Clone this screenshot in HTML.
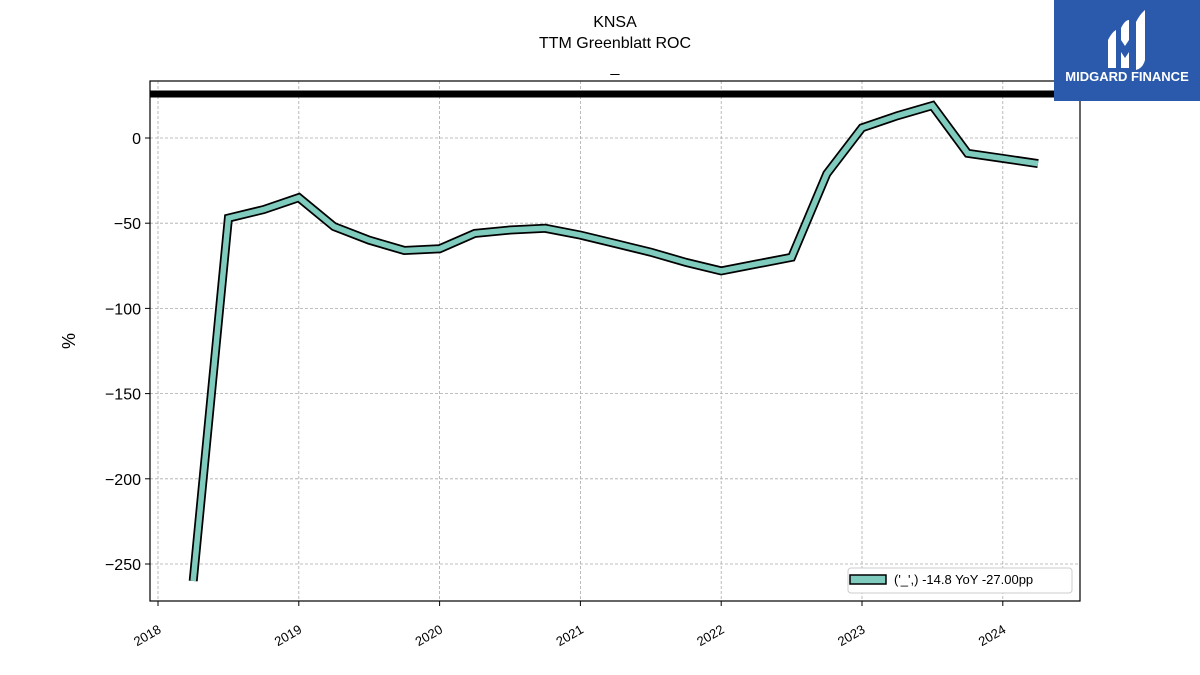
<!DOCTYPE html>
<html><head><meta charset="utf-8">
<style>
body{margin:0;background:#fff;width:1200px;height:675px;overflow:hidden;font-family:"Liberation Sans","DejaVu Sans",sans-serif;}
svg{display:block}
</style></head>
<body>
<svg id="chart" width="1200" height="675">
<text x="615" y="27" text-anchor="middle" font-size="16">KNSA</text>
<text x="615" y="48" text-anchor="middle" font-size="16">TTM Greenblatt ROC</text>
<text x="615" y="72" text-anchor="middle" font-size="16">_</text>
<g id="grid"></g>
<g id="axes"></g>
<g id="series"></g>
<rect x="150" y="81" width="930" height="520" fill="none" stroke="#000" stroke-width="1.2"/>
<text x="75" y="341" text-anchor="middle" font-size="18" transform="rotate(-90 75 341)">%</text>
<g>
<rect x="848" y="568" width="224" height="25" rx="3" fill="#fff" stroke="#ccc"/>
<rect x="850" y="575" width="36" height="9" fill="#7fcbbd" stroke="#000" stroke-width="1.5"/>
<text x="894" y="584" font-size="13">('_',) -14.8 YoY -27.00pp</text>
</g>
<g>
<rect x="1054" y="0" width="146" height="101" fill="#2b5aac"/>
<path d="M1108 40 q4-8 8-10 v38 h-8 z M1121 28 q4-8 8-8 v20 l-4 6 l-4-6 z M1121 52 l4 6 l4-6 v16 h-8 z M1136 22 q4-8 9-12 v50 q-2 8-9 10 z" fill="#fff"/>
<text x="1127" y="81" text-anchor="middle" font-size="13" font-weight="bold" fill="#fff">MIDGARD FINANCE</text>
</g>
</svg>
<script>
const xDates=[2018.25,2018.5,2018.75,2019,2019.25,2019.5,2019.75,2020,2020.25,2020.5,2020.75,2021,2021.25,2021.5,2021.75,2022,2022.25,2022.5,2022.75,2023,2023.25,2023.5,2023.75,2024,2024.25];
const rocValues=[-260,-47,-42,-35,-52,-60,-66,-65,-56,-54,-53,-57,-62,-67,-73,-78,-74,-70,-21,6,13,19,-9,-12,-15];
const refLine=[25.8];
const yTicks=[0,-50,-100,-150,-200,-250];
const yTickLabels=["0","\u221250","\u2212100","\u2212150","\u2212200","\u2212250"];
const xTicks=[2018,2019,2020,2021,2022,2023,2024];
const xTickLabels=["2018","2019","2020","2021","2022","2023","2024"];
const NS="http://www.w3.org/2000/svg";
const xs=v=>158+(v-2018)*140.8;
const ys=v=>138-v*1.704;
function mk(tag,attrs,parent){const e=document.createElementNS(NS,tag);for(const k in attrs)e.setAttribute(k,attrs[k]);parent.appendChild(e);return e;}
const grid=document.getElementById('grid'),axes=document.getElementById('axes'),series=document.getElementById('series');
yTicks.forEach((t,i)=>{
 const g=mk('line',{x1:150,x2:1080,y1:ys(t),y2:ys(t),stroke:'#aaa','stroke-dasharray':'3,2','stroke-width':0.8},grid);
 
 
 const tk=mk('line',{x1:145,x2:150,y1:ys(t),y2:ys(t),stroke:'#000'},axes);
 
 
 const tx=mk('text',{x:141,y:ys(t)+6,'text-anchor':'end','font-size':16},axes);
 tx.textContent=yTickLabels[i];
 
 
});
xTicks.forEach((t,i)=>{
 const g=mk('line',{x1:xs(t),x2:xs(t),y1:81,y2:601,stroke:'#aaa','stroke-dasharray':'3,2','stroke-width':0.8},grid);
 
 
 const tk=mk('line',{x1:xs(t),x2:xs(t),y1:601,y2:606,stroke:'#000'},axes);
 
 
 const x=xs(t),y=632;
 const tx=mk('text',{x:x+4,y:y,'text-anchor':'end','font-size':13,transform:`rotate(-30 ${x+4} ${y})`},axes);
 tx.textContent=xTickLabels[i];
 
 
});
const rl=mk('line',{x1:150,x2:1080,y1:ys(refLine[0]),y2:ys(refLine[0]),stroke:'#000','stroke-width':7},series);


const d=xDates.map((x,i)=>(i?'L':'M')+xs(x).toFixed(1)+' '+ys(rocValues[i]).toFixed(1)).join(' ');
const outline=mk('path',{d:d,fill:'none',stroke:'#000','stroke-width':9,'stroke-linejoin':'miter'},series);


const ln=mk('path',{d:d,fill:'none',stroke:'#7fcbbd','stroke-width':5.5,'stroke-linejoin':'miter'},series);


</script>
</body></html>
